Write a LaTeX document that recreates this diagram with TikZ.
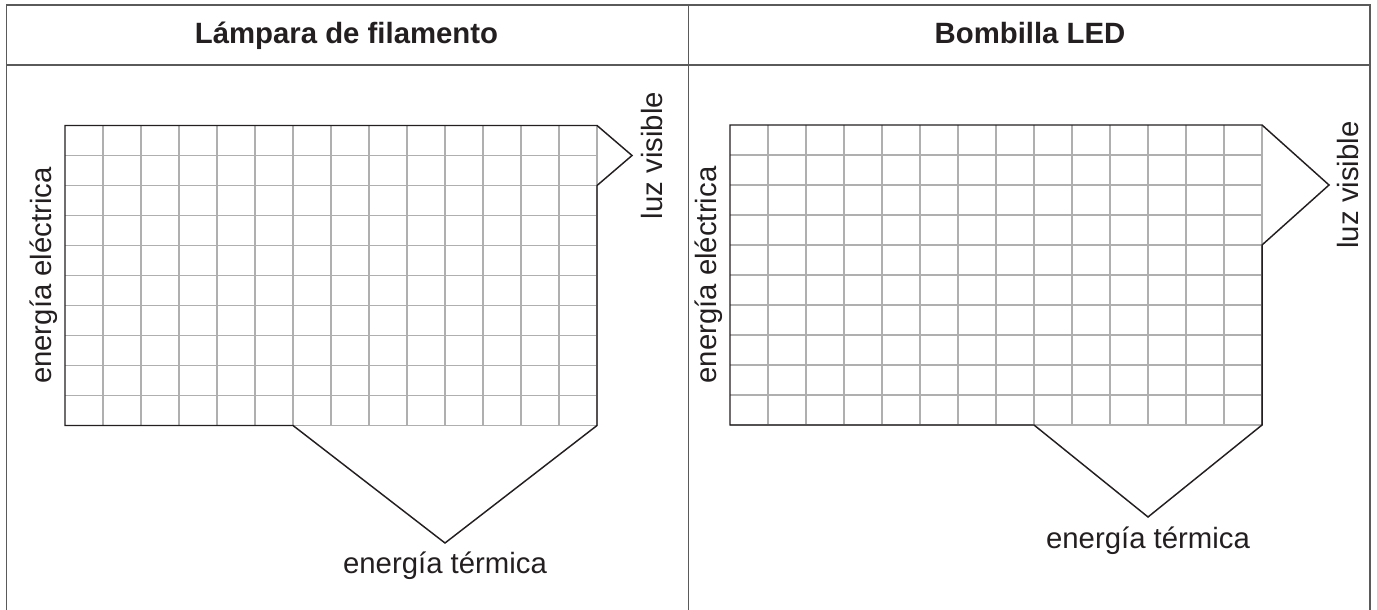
\documentclass[tikz,border=0pt]{standalone}
\usepackage{fontspec}
\setmainfont{Liberation Sans}
\usetikzlibrary{calc}
\definecolor{framegray}{RGB}{90,90,90}
\definecolor{gridgray}{RGB}{175,175,175}
\definecolor{inkdark}{RGB}{35,31,32}

\begin{document}
\begin{tikzpicture}[
    x=0.75pt, y=-0.75pt,
    frame/.style={draw=framegray, line width=1.4pt},
    gridline/.style={draw=gridgray, line width=0.9pt},
    flow/.style={draw=inkdark, line width=1.1pt, line join=miter},
    head/.style={font=\fontsize{22}{26}\selectfont\bfseries, text=inkdark, anchor=base, inner sep=0pt},
    lbl/.style={font=\fontsize{22}{26}\selectfont, text=inkdark, anchor=base, inner sep=0pt}
]
    \useasboundingbox (0,0) rectangle (1377,610);

    % table frame
    \draw[frame] (6.5,610) -- (6.5,5) -- (1370,5) -- (1370,610);
    \draw[frame] (6.5,65) -- (1370,65);
    \draw[frame] (688.5,5) -- (688.5,610);
    \node[head] (hlamp) at (346.5,43.5) {Lámpara de filamento};
    \node[head] (hled) at (1030,43.5) {Bombilla LED};

    % filament lamp
    \begin{scope}[shift={(65,125.5)}]
        \foreach \i in {1,...,14} \draw[gridline] (\i*38,0) -- (\i*38,300);
        \foreach \j in {1,...,10} \draw[gridline] (0,\j*30) -- (532,\j*30);
    \end{scope}
    \coordinate (lamplight) at (632,155.5);
    \coordinate (lampheat) at (445,543);
    \draw[flow] (293,425.5) -- (65,425.5) -- (65,125.5) -- (597,125.5) -- (lamplight)
        -- (597,185.5) -- (597,425.5) -- (lampheat) -- cycle;
    \node[lbl, rotate=90] (lampin) at (51,275.5) {energía eléctrica};
    \node[lbl, rotate=90] (lampout) at (662,155.5) {luz visible};
    \node[lbl] (lamploss) at (445,573) {energía térmica};

    % LED bulb
    \begin{scope}[shift={(730,125)}]
        \foreach \i in {1,...,14} \draw[gridline] (\i*38,0) -- (\i*38,300);
        \foreach \j in {1,...,10} \draw[gridline] (0,\j*30) -- (532,\j*30);
    \end{scope}
    \coordinate (ledlight) at (1329,185);
    \coordinate (ledheat) at (1148,517);
    \draw[flow] (1034,425) -- (730,425) -- (730,125) -- (1262,125) -- (ledlight)
        -- (1262,245) -- (1262,425) -- (ledheat) -- cycle;
    \node[lbl, rotate=90] (ledin) at (716,275) {energía eléctrica};
    \node[lbl, rotate=90] (ledout) at (1358,185) {luz visible};
    \node[lbl] (ledloss) at (1148,548) {energía térmica};
\end{tikzpicture}
\end{document}
